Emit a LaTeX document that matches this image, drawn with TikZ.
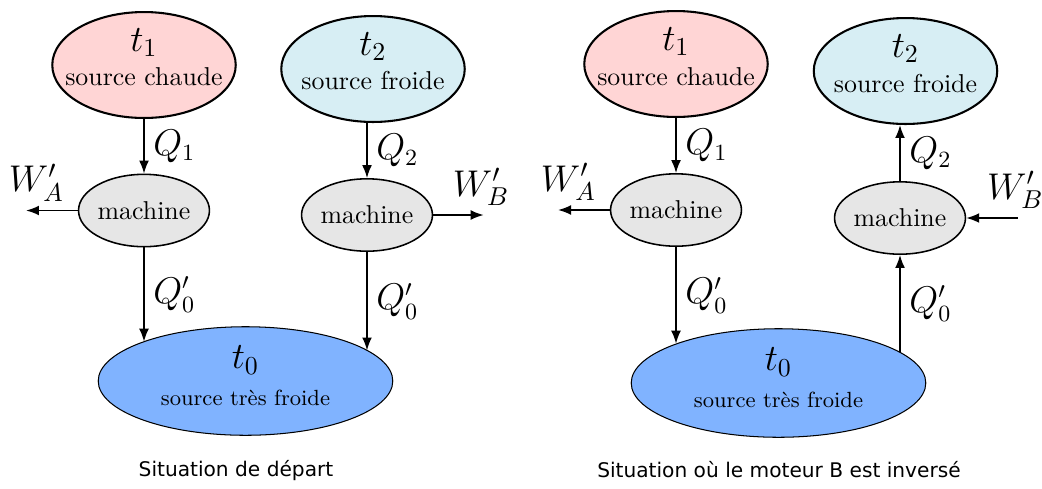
\documentclass[tikz,border=0pt]{standalone}
\usepackage{fontspec}
\newfontfamily\dejavu{DejaVu Sans}
\usetikzlibrary{shapes.geometric, arrows.meta, positioning}

\definecolor{rose}{RGB}{255,213,213}
\definecolor{ciel}{RGB}{215,238,244}
\definecolor{bleu}{RGB}{128,179,255}
\definecolor{gris}{RGB}{230,230,230}

\newcommand{\grand}{\fontsize{13.5}{16}\selectfont}
\newcommand{\petit}{\fontsize{8.5}{10}\selectfont}

\begin{document}
\begin{tikzpicture}[x=0.387pt, y=-0.387pt,
    source/.style={ellipse, draw, thick, inner sep=0pt, minimum width=71pt, minimum height=41pt},
    froid/.style={ellipse, draw, fill=bleu, inner sep=0pt, minimum width=114pt, minimum height=42pt},
    moteur/.style={ellipse, draw, semithick, fill=gris, inner sep=0pt, minimum width=50pt, minimum height=28pt},
    flux/.style={semithick, -{Latex[length=5pt, width=3.8pt]}},
    legende/.style={font=\dejavu\fontsize{7.8}{9}\selectfont}]
  \useasboundingbox (0,0) rectangle (1042,488);

  % situation de depart
  \node[source, fill=rose, label={[align=center, yshift=3pt]center:{\Large $t_1$}\\[1.5pt]source chaude}] (t1L) at (144,65) {};
  \node[source, fill=ciel, label={[align=center, yshift=3pt]center:{\Large $t_2$}\\[1.5pt]source froide}] (t2L) at (373,69) {};
  \node[moteur] (m1L) at (144,210.5) {machine};
  \node[moteur] (m2L) at (367,215) {machine};
  \node[froid, label={[align=center, yshift=2pt]center:{\Large $t_0$}\\[2.5pt]{\petit source très froide}}] (t0L) at (245.5,381) {};
  \coordinate[left=20pt of m1L.west] (wAL);
  \coordinate[right=19.5pt of m2L.east] (wBL);

  \draw[flux] (t1L) -- (m1L) node[midway, right] {\grand $Q_1$};
  \draw[flux] (m2L.north |- t2L.south) -- (m2L) node[midway, right] {\grand $Q_2$};
  \draw[flux] (m1L) -- (m1L.south |- t0L.159) node[midway, right] {\grand $Q'_0$};
  \draw[flux] (m2L) -- (m2L.south |- t0L.14) node[midway, right] {\grand $Q'_0$};
  \draw[flux] (m1L) -- (wAL) node[pos=0.8, above] {\Large $W'_A$};
  \draw[flux] (m2L) -- (wBL) node[pos=0.95, above] {\Large $W'_B$};

  \node[legende] (capL) at (236,471) {Situation de départ};

  % moteur B inverse
  \node[source, fill=rose, label={[align=center, yshift=3pt]center:{\Large $t_1$}\\[1.5pt]source chaude}] (t1R) at (676,64) {};
  \node[source, fill=ciel, label={[align=center, yshift=3pt]center:{\Large $t_2$}\\[1.5pt]source froide}] (t2R) at (905.5,71) {};
  \node[moteur] (m1R) at (676,210) {machine};
  \node[moteur] (m2R) at (900,218) {machine};
  \node[froid, label={[align=center, yshift=2pt]center:{\Large $t_0$}\\[2.5pt]{\petit source très froide}}] (t0R) at (778.5,383) {};
  \coordinate[left=20pt of m1R.west] (wAR);
  \coordinate[right=20pt of m2R.east] (wBR);

  \draw[flux] (t1R) -- (m1R) node[midway, right] {\grand $Q_1$};
  \draw[flux] (m2R) -- (m2R.north |- t2R.south) node[midway, right] {\grand $Q_2$};
  \draw[flux] (m1R) -- (m1R.south |- t0R.159) node[midway, right] {\grand $Q'_0$};
  \draw[flux] (m2R.south |- t0R.14) -- (m2R) node[midway, right] {\grand $Q'_0$};
  \draw[flux] (m1R) -- (wAR) node[pos=0.8, above] {\Large $W'_A$};
  \draw[flux] (wBR) -- (m2R) node[pos=0.05, above] {\Large $W'_B$};

  \node[legende] (capR) at (779,470) {Situation où le moteur B est inversé};
\end{tikzpicture}
\end{document}
